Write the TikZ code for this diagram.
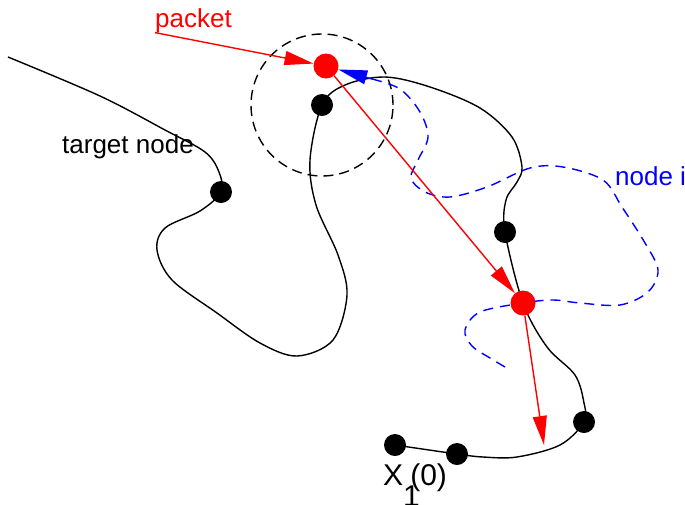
\documentclass[tikz,border=0pt]{standalone}
\usepackage{fontspec}
\setmainfont{Liberation Sans}
\usetikzlibrary{arrows.meta}

\begin{document}
\begin{tikzpicture}[x=1pt,y=-1pt,line join=round,>={Triangle[length=29pt,width=14pt]}]
    \tikzset{track/.style={line width=1.4pt},
             dot/.style={circle,fill=black,inner sep=0pt,minimum size=22pt},
             pkt/.style={dot,fill=red,minimum size=25pt},
             lbl/.style={anchor=base west,inner sep=0pt,font=\fontsize{26}{30}\selectfont}}
    \useasboundingbox (0,0) rectangle (685,504);
    \node[dot] (t1) at (221,192) {};
    \node[dot] (t2) at (322,105) {};
    \node[dot] (t3) at (505,232) {};
    \node[dot] (t4) at (584,422) {};
    \node[dot] (t5) at (457,454) {};
    \node[dot] (t6) at (395,445) {};
    \draw[track] plot[smooth,tension=0.55] coordinates {(8,57) (100,96) (165,130) (205,152) (219,172) (t1)
        (200,211) (165,228) (157,250) (172,280) (217,313) (260,343) (297,356) (333,340) (347,295) (338,255) (316,205) (310,160) (t2)
        (345,85) (385,77) (430,87) (480,108) (512,137) (522,167) (517,182) (506,200) (t3)
        (523,303) (547,347) (575,375) (584,403) (t4)
        (560,445) (517,457) (483,457) (t5) (t6)};
    \draw[track,dashed,dash pattern=on 10pt off 6pt] (t2) circle[radius=71pt];
    \draw[track,blue,dash pattern=on 10pt off 7pt] plot[smooth,tension=0.55] coordinates {(372,79) (400,89) (420,112) (428,137)
        (418,160) (411,178) (425,192) (450,197) (487,187) (530,168) (563,167) (603,180) (622,207) (645,243) (658,270)
        (648,292) (620,305) (580,303) (553,300) (523,303) (480,312) (465,330) (472,346) (490,358) (505,367)};
    \node[pkt] (r1) at (326,66) {};
    \node[pkt] (r2) at (523,303) {};
    \coordinate (bs) at (372,79);
    \coordinate (drop) at (544,445);
    \node[lbl,red] (packet) at (155,27) {packet};
    \node[lbl] (target) at (62,153) {target node};
    \node[lbl,blue] (nodei) at (615,185) {node i};
    \node[lbl,font=\fontsize{30}{34}\selectfont] (start) at (383,485) {X\raisebox{-.72em}{1}\kern-.32em(0)};
    \draw[track,blue,->] (bs) -- (r1);
    \draw[track,red,->] (packet.south west) -- (r1);
    \draw[track,red,->] (r1) -- (r2);
    \draw[track,red,->] (r2) -- (drop);
\end{tikzpicture}
\end{document}
